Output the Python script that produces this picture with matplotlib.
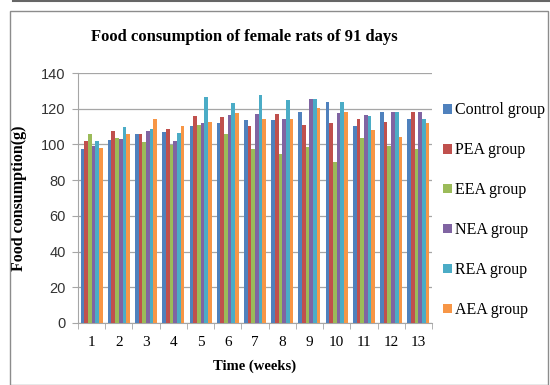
import numpy as np
import matplotlib
matplotlib.use("Agg")
import matplotlib.pyplot as plt
from matplotlib.patches import Rectangle
from matplotlib.lines import Line2D

# --- data ---
weeks = ["1", "2", "3", "4", "5", "6", "7", "8", "9", "10", "11", "12", "13"]
groups = ["Control group", "PEA group", "EEA group", "NEA group", "REA group", "AEA group"]

control = [97.7, 102.6, 105.6, 107.0, 110.6, 112.0, 113.6, 113.6, 118.4, 123.8, 110.6, 117.9, 114.5]
pea     = [102.0, 107.6, 106.1, 108.5, 115.8, 115.3, 110.6, 117.0, 111.0, 112.0, 114.0, 112.5, 117.9]
eea     = [105.6, 103.5, 101.5, 99.8, 110.8, 106.0, 97.4, 94.8, 98.3, 90.3, 103.5, 99.0, 97.4]
nea     = [99.0, 103.0, 107.6, 102.0, 112.0, 116.4, 117.0, 114.0, 125.5, 117.5, 116.4, 117.9, 118.2]
rea     = [101.7, 109.5, 108.5, 106.5, 126.6, 123.4, 127.7, 125.1, 125.5, 123.6, 116.0, 117.9, 114.0]
aea     = [98.1, 106.1, 114.3, 110.6, 112.5, 117.5, 114.0, 114.0, 120.5, 117.9, 108.0, 103.9, 112.0]

series = [control, pea, eea, nea, rea, aea]
colors = ["#4F81BD", "#C0504D", "#9BBB59", "#8064A2", "#4BACC6", "#F79646"]

W, H = 550, 385
fig = plt.figure(figsize=(W / 100, H / 100), dpi=100)

# frame around the chart, like the office chart area
fig.add_artist(Rectangle((10 / W, 0), (W - 12) / W, 1 - 11 / H, transform=fig.transFigure,
                         fill=False, edgecolor="#8c8c8c", linewidth=1.0))
fig.add_artist(Line2D([13 / W, 1], [1 - 1 / H, 1 - 1 / H], transform=fig.transFigure,
                      color="#666666", linewidth=1.5))

# plot area
left, right, top, bottom = 78, 432, 73, 323
ax = fig.add_axes([left / W, 1 - bottom / H, (right - left) / W, (bottom - top) / H])

x = np.arange(len(weeks))
bw = 0.135
for i, (vals, c, name) in enumerate(zip(series, colors, groups)):
    ax.bar(x + (i - 2.5) * bw, vals, width=bw, color=c, label=name, zorder=3)

ax.set_xlim(-0.5, len(weeks) - 0.5)
ax.set_ylim(0, 140)
ax.set_yticks(range(0, 141, 20))
ax.yaxis.grid(True, color="#a6a6a6", linewidth=0.9, zorder=0)
ax.set_xticks(x)
ax.set_xticklabels(weeks, family="Liberation Serif", fontsize=11)
ax.set_xticks(np.arange(-0.5, len(weeks), 1), minor=True)
ax.tick_params(axis="x", which="major", length=0, pad=9)
ax.tick_params(axis="x", which="minor", length=4, color="#a6a6a6")
ax.tick_params(axis="y", length=4, color="#a6a6a6", labelsize=10.5, pad=5)
for lab in ax.get_yticklabels():
    lab.set_family("Liberation Sans")
    lab.set_color("#333333")

for s in ["top", "right"]:
    ax.spines[s].set_visible(False)
ax.spines["left"].set_color("#a6a6a6")
ax.spines["bottom"].set_color("#a6a6a6")

ax.set_ylabel("Food consumption(g)", family="Liberation Serif", fontweight="bold", fontsize=11.5, labelpad=10)
ax.set_xlabel("Time (weeks)", family="Liberation Serif", fontweight="bold", fontsize=10.5, labelpad=8)

fig.text(244 / W, 1 - 37 / H, "Food consumption of female rats of 91 days", ha="center", va="center",
         family="Liberation Serif", fontweight="bold", fontsize=12)

fig.legend(loc="upper left", bbox_to_anchor=(437 / W, 1 - 96 / H), frameon=False,
           prop={"family": "Liberation Serif", "size": 11.5}, labelspacing=1.5,
           handlelength=0.55, handleheight=0.55, handletextpad=0.15, borderaxespad=0)

fig.savefig("out.png", dpi=100)
